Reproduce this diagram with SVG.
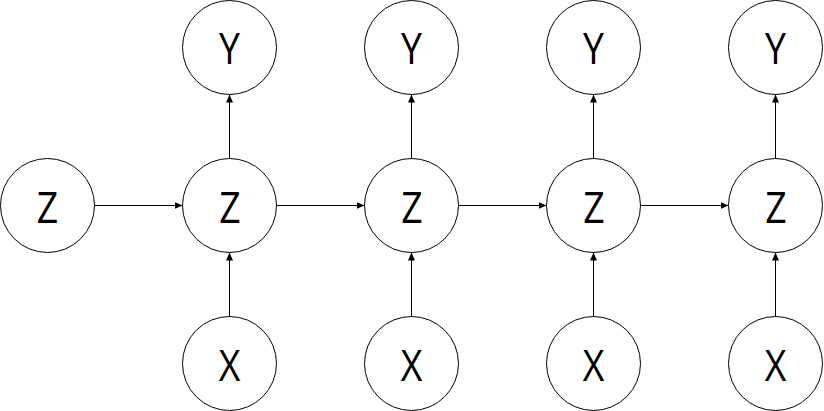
<svg xmlns="http://www.w3.org/2000/svg" width="824" height="411" viewBox="0 0 824 411">
<style>
.n circle{fill:#fff;stroke:#000;stroke-width:1}
.n text{font-family:"Open Sans","Liberation Sans",sans-serif;font-size:43px;text-anchor:middle;fill:#000}
.e line{stroke:#000;stroke-width:1}
</style>
<defs>
<marker id="a" markerWidth="8" markerHeight="8" viewBox="0 0 8 8" refX="8" refY="4" orient="auto" markerUnits="userSpaceOnUse">
<path d="M0,0.5 L8,4 L0,7.5 Z" fill="#000"/>
</marker>
</defs>
<rect width="824" height="411" fill="#fff"/>
<g id="edges" class="e">
<line x1="94.5" y1="205.5" x2="182.5" y2="205.5" marker-end="url(#a)"/>
<line x1="276.5" y1="205.5" x2="364.5" y2="205.5" marker-end="url(#a)"/>
<line x1="458.5" y1="205.5" x2="546.5" y2="205.5" marker-end="url(#a)"/>
<line x1="640.5" y1="205.5" x2="728.5" y2="205.5" marker-end="url(#a)"/>
<line x1="229.5" y1="158.5" x2="229.5" y2="94.5" marker-end="url(#a)"/>
<line x1="411.5" y1="158.5" x2="411.5" y2="94.5" marker-end="url(#a)"/>
<line x1="593.5" y1="158.5" x2="593.5" y2="94.5" marker-end="url(#a)"/>
<line x1="775.5" y1="158.5" x2="775.5" y2="94.5" marker-end="url(#a)"/>
<line x1="229.5" y1="316.5" x2="229.5" y2="252.5" marker-end="url(#a)"/>
<line x1="411.5" y1="316.5" x2="411.5" y2="252.5" marker-end="url(#a)"/>
<line x1="593.5" y1="316.5" x2="593.5" y2="252.5" marker-end="url(#a)"/>
<line x1="775.5" y1="316.5" x2="775.5" y2="252.5" marker-end="url(#a)"/>
</g>
<g id="z0" class="n"><circle cx="47.5" cy="205.5" r="47"/><text transform="translate(47.5 222.5) scale(0.87 1)">Z</text></g>
<g id="z1" class="n"><circle cx="229.5" cy="205.5" r="47"/><text transform="translate(230 222.5) scale(0.87 1)">Z</text></g>
<g id="z2" class="n"><circle cx="411.5" cy="205.5" r="47"/><text transform="translate(412 222.5) scale(0.87 1)">Z</text></g>
<g id="z3" class="n"><circle cx="593.5" cy="205.5" r="47"/><text transform="translate(594 222.5) scale(0.87 1)">Z</text></g>
<g id="z4" class="n"><circle cx="775.5" cy="205.5" r="47"/><text transform="translate(776 222.5) scale(0.87 1)">Z</text></g>
<g id="y1" class="n"><circle cx="229.5" cy="47.5" r="47"/><text transform="translate(229.5 63.5) scale(0.87 1)">Y</text></g>
<g id="y2" class="n"><circle cx="411.5" cy="47.5" r="47"/><text transform="translate(411.5 63.5) scale(0.87 1)">Y</text></g>
<g id="y3" class="n"><circle cx="593.5" cy="47.5" r="47"/><text transform="translate(593.5 63.5) scale(0.87 1)">Y</text></g>
<g id="y4" class="n"><circle cx="775.5" cy="47.5" r="47"/><text transform="translate(775.5 63.5) scale(0.87 1)">Y</text></g>
<g id="x1" class="n"><circle cx="229.5" cy="363.5" r="47"/><text transform="translate(229.5 380.5) scale(0.87 1)">X</text></g>
<g id="x2" class="n"><circle cx="411.5" cy="363.5" r="47"/><text transform="translate(411.5 380.5) scale(0.87 1)">X</text></g>
<g id="x3" class="n"><circle cx="593.5" cy="363.5" r="47"/><text transform="translate(593.5 380.5) scale(0.87 1)">X</text></g>
<g id="x4" class="n"><circle cx="775.5" cy="363.5" r="47"/><text transform="translate(775.5 380.5) scale(0.87 1)">X</text></g>
</svg>
